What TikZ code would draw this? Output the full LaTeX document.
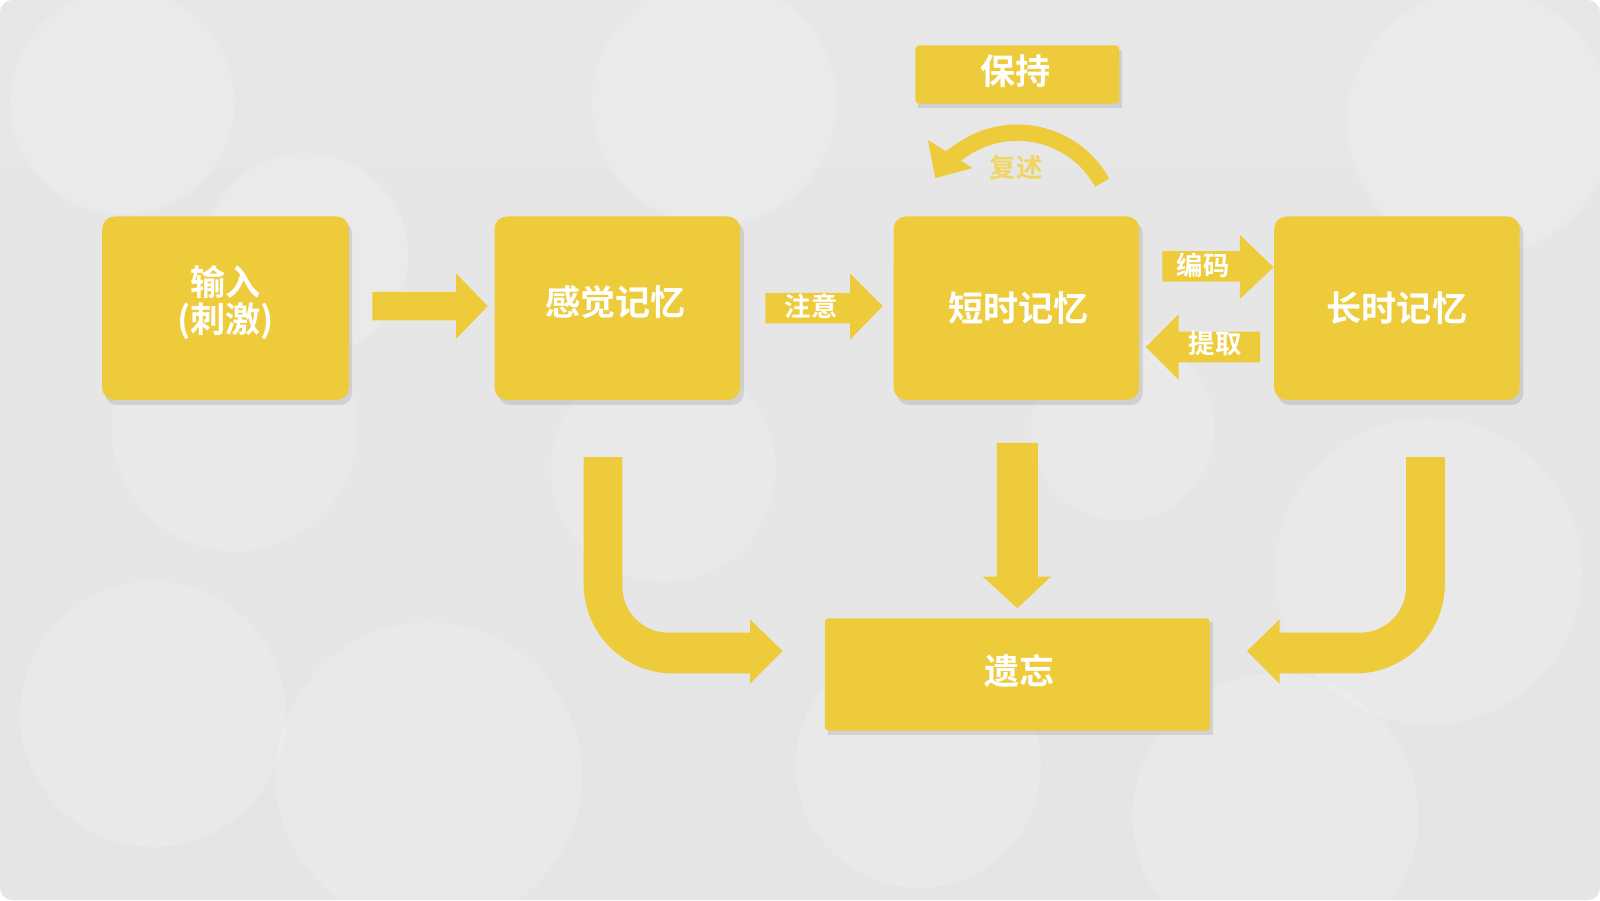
\documentclass[tikz,border=0pt]{standalone}
\usepackage{fontspec}
\newfontfamily\cjk{Noto Sans CJK SC}[BoldFont={Noto Sans CJK SC Bold}]
\usetikzlibrary{arrows.meta}
\definecolor{yel}{HTML}{EDCB3B}
\begin{document}
\begin{tikzpicture}[x=0.010204cm,y=-0.010204cm,
  box/.style={fill=yel,rounded corners=12*0.0102cm,inner sep=0pt},
  shade/.style={fill=black,opacity=0.10,rounded corners=12*0.0102cm},
  txt/.style={text=white,font=\cjk\bfseries\fontsize{10pt}{10.5pt}\selectfont,align=center},
  lbl/.style={text=white,font=\cjk\bfseries\fontsize{7.5pt}{9pt}\selectfont}]
\useasboundingbox (0,0) rectangle (1568,882);
\shade[top color=black!4,bottom color=black!11] (0,0) rectangle (1568,882);
\foreach \x/\y/\r in {120/100/110,230/420/120,420/760/150,150/700/130,1450/120/130,1400/560/150,1250/800/140,700/100/120,650/460/110,900/750/120,1100/420/90,300/250/100}
  \fill[white,opacity=0.15] (\x,\y) circle (\r);
% shadows
\foreach \a/\b/\c/\d in {100/212/342/392,485/212/726/392,876/212/1117/392,1249/212/1490/392}
  \fill[shade] (\a+3,\b+5) rectangle (\c+3,\d+5);
\fill[black,opacity=0.10] (900,49) rectangle (1100,106);
\fill[black,opacity=0.10] (811,610) rectangle (1189,720);
% boxes
\node[box,minimum width=242*0.0102cm,minimum height=180*0.0102cm] (in) at (221,302) {};
\node[txt] at (221,296) {输入\\(刺激)};
\node[box,minimum width=241*0.0102cm,minimum height=180*0.0102cm] (sm) at (605,302) {};
\node[txt] at (603,296) {感觉记忆};
\node[box,minimum width=241*0.0102cm,minimum height=180*0.0102cm] (stm) at (996,302) {};
\node[txt] at (998,302) {短时记忆};
\node[box,minimum width=241*0.0102cm,minimum height=180*0.0102cm] (ltm) at (1369,302) {};
\node[txt] at (1369,302) {长时记忆};
\node[fill=yel,minimum width=200*0.0102cm,minimum height=57*0.0102cm,rounded corners=1pt] (keep) at (997,73) {};
\node[txt] at (995,70) {保持};
\node[fill=yel,minimum width=378*0.0102cm,minimum height=110*0.0102cm,rounded corners=1pt] (forget) at (997,661) {};
\node[txt] at (999,658) {遗忘};
% block arrows
\fill[yel] (365,286)--(447,286)--(447,268)--(478,300)--(447,332)--(447,314)--(365,314)--cycle;
\fill[yel] (750,287)--(833,287)--(833,268)--(865,300)--(833,333)--(833,317)--(750,317)--cycle;
\node[lbl] at (795,300) {注意};
\fill[yel] (1139,246)--(1215,246)--(1215,230)--(1248,262)--(1215,293)--(1215,276)--(1139,276)--cycle;
\node[lbl] at (1179,260) {编码};
\fill[yel] (1235,325)--(1155,325)--(1155,308)--(1123,340)--(1155,372)--(1155,355)--(1235,355)--cycle;
\node[lbl] at (1191,337) {提取};
\fill[yel] (977,434)--(1017,434)--(1017,565)--(1030,565)--(997,596)--(963,565)--(977,565)--cycle;
% curved arrows
\fill[yel] (572,448)--(610,448)--(610,575) arc[start angle=180,end angle=90,radius=45]--(735,620)--(735,607)--(767,638)--(735,670)--(735,660)--(660,660) arc[start angle=90,end angle=180,radius=88]--cycle;
\fill[yel] (1416,448)--(1378,448)--(1378,575) arc[start angle=0,end angle=90,radius=45]--(1254,620)--(1254,607)--(1222,638)--(1254,670)--(1254,660)--(1328,660) arc[start angle=90,end angle=0,radius=88]--cycle;
% rehearsal arc
\coordinate (c) at (997,225);
\draw[yel,line width=16*0.0102cm,-{Triangle[width=50*0.0102cm,length=28*0.0102cm]}] ([shift={(-29:95)}]c) arc[start angle=-29,end angle=-148,radius=95];
\node[text=yel!80!white,font=\cjk\bfseries\fontsize{7.5pt}{9pt}\selectfont] at (996,164) {复述};
\end{tikzpicture}
\end{document}
